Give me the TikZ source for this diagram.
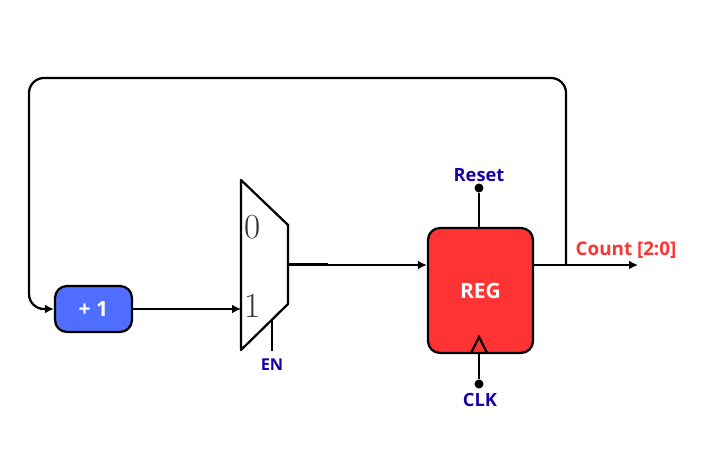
\documentclass[tikz,border=0pt]{standalone}
\usepackage{fontspec}
\setsansfont{Open Sans}
\usetikzlibrary{arrows.meta}
\definecolor{regred}{HTML}{FF3333}
\definecolor{incblue}{HTML}{4F6EFF}
\definecolor{sigblue}{HTML}{1C00A8}
\tikzset{
    wire/.style={line width=0.045cm, black},
    wirearrow/.style={wire, -{Latex[length=0.18cm,width=0.18cm]}},
    block/.style={draw=black, line width=0.045cm, rounded corners=0.24cm, text=white, font=\sffamily\bfseries\fontsize{12}{14}\selectfont},
    siglabel/.style={text=sigblue, font=\sffamily\bfseries\fontsize{10.4}{12}\selectfont, inner sep=0pt},
    pindot/.style={circle, fill=black, inner sep=0pt, minimum size=0.18cm},
    muxnum/.style={text=black!80, font=\fontsize{20}{22}\selectfont, inner sep=0pt}
}
\begin{document}
\begin{tikzpicture}
    \useasboundingbox (0,0) rectangle (14.04,9.16);

    \node[block, fill=incblue, minimum width=1.54cm, minimum height=0.92cm] (inc) at (1.87,2.98)  {+ 1};
    \node[block, fill=regred, minimum width=2.1cm, minimum height=2.5cm] (reg) at (9.61,3.35) {REG};

    % mux
    \coordinate (muxa) at (4.82,5.56);
    \coordinate (muxb) at (5.76,4.66);
    \coordinate (muxc) at (5.76,3.08);
    \coordinate (muxd) at (4.82,2.16);
    \draw[wire, line join=round] (muxa) -- (muxb) -- (muxc) -- (muxd) -- cycle;
    \node[muxnum] (zero) at (5.06,4.62) {0};
    \node[muxnum] (one) at (5.06,3.04) {1};
    \coordinate (muxin) at (4.82,2.98);
    \coordinate (muxout) at (5.76,3.86);
    \coordinate (muxsel) at (5.44,2.76);

    \draw[wirearrow] (inc.east) -- (muxin);
    \draw[wirearrow] (muxout) -- (muxout -| reg.west);
    \draw[line width=0.06cm] (muxout) -- +(0.8,0);

    % select
    \node[siglabel, font=\sffamily\bfseries\fontsize{9.3}{11}\selectfont] (en) at (5.44,1.87) {EN};
    \coordinate (ensel) at (5.44,2.14);
    \draw[wire] (muxsel) -- (ensel);

    % reset
    \node[pindot] (rstdot) at (9.58,5.4) {};
    \node[siglabel] (rst) at (9.58,5.66) {Reset};
    \draw[wire] (rstdot) -- (rstdot |- reg.north);

    % clock
    \node[pindot] (clkdot) at (9.58,1.48) {};
    \node[siglabel] (clk) at (9.6,1.17) {CLK};
    \draw[wire] (clkdot) -- (clkdot |- reg.south);
    \coordinate (clka) at (9.42,2.1);
    \coordinate (clkb) at (9.58,2.42);
    \coordinate (clkc) at (9.74,2.1);
    \draw[wire] (clka) -- (clkb) -- (clkc);

    % output
    \coordinate (tap) at (11.32,3.86);
    \coordinate (outend) at (12.76,3.86);
    \draw[wirearrow] (tap -| reg.east) -- (outend);
    \node[text=regred, font=\sffamily\bfseries\fontsize{10.7}{12}\selectfont, inner sep=0pt] (count) at (12.52,4.16) {Count [2:0]};

    % feedback
    \coordinate (topr) at (11.32,7.6);
    \coordinate (topl) at (0.58,7.6);
    \coordinate (botl) at (0.58,2.98);
    \draw[wire, rounded corners=0.3cm] (tap) -- (topr) -- (topl) -- (botl) -- (0.9,2.98);
    \draw[wirearrow] (0.8,2.98) -- (inc.west);
\end{tikzpicture}
\end{document}
